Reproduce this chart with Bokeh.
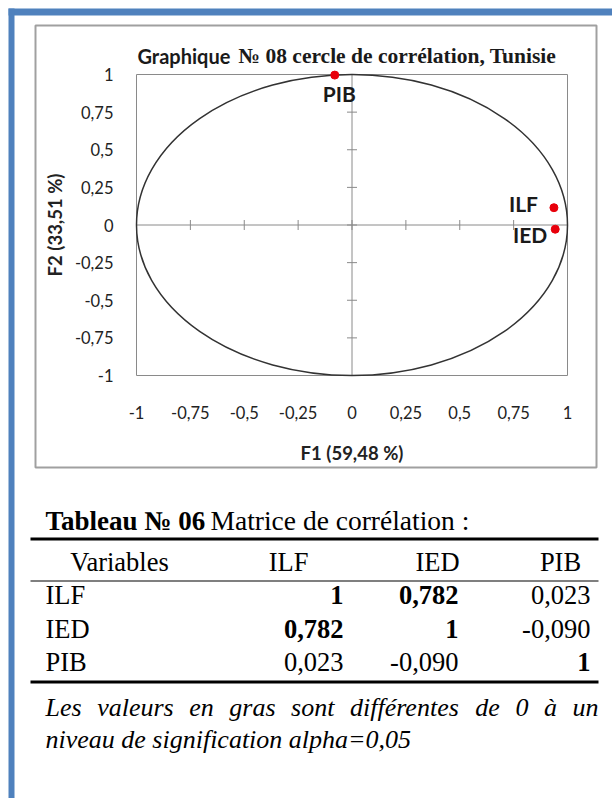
from bokeh.plotting import figure
from bokeh.models import Range1d, ColumnDataSource
from bokeh.core.properties import value
from bokeh.embed import file_html
from bokeh.resources import INLINE
import math

# ---------------- data ----------------
title_bold = "Graphique"
title_rest = "№ 08 cercle de corrélation, Tunisie"
x_axis_title = "F1 (59,48 %)"
y_axis_title = "F2 (33,51 %)"
tick_values = [-1, -0.75, -0.5, -0.25, 0, 0.25, 0.5, 0.75, 1]
tick_labels = ["-1", "-0,75", "-0,5", "-0,25", "0", "0,25", "0,5", "0,75", "1"]

var_names = ["ILF", "IED", "PIB"]
f1_coords = [0.937, 0.943, -0.080]
f2_coords = [0.115, -0.028, 0.996]

table_title_bold = "Tableau № 06"
table_title_rest = "Matrice de corrélation :"
table_header = ["Variables", "ILF", "IED", "PIB"]
row_names = ["ILF", "IED", "PIB"]
corr_ilf = [1, 0.782, 0.023]
corr_ied = [0.782, 1, -0.090]
corr_pib = [0.023, -0.090, 1]
bold_ilf = [True, True, False]
bold_ied = [True, True, False]
bold_pib = [False, False, True]
footnote_lines = ["Les valeurs en gras sont différentes de 0 à un",
                  "niveau de signification alpha=0,05"]

# ---------------- layout (page pixels, top-left origin) ----------------
W, H = 612, 798
FL, FR, FT, FB = 136, 567, 74, 375          # chart plotting area on the page
sxu = (FR - FL) / 2.0
syu = (FB - FT) / 2.0
cx0 = (FL + FR) / 2.0
cy0 = (FT + FB) / 2.0

p = figure(width=W, height=H, x_range=Range1d(0, W), y_range=Range1d(H, 0),
           x_axis_location=None, y_axis_location=None,
           output_backend="svg", toolbar_location=None, min_border=0)
p.background_fill_color = "white"
p.border_fill_color = "white"
p.outline_line_color = None
p.grid.visible = False
p.extra_x_ranges = {"cx": Range1d(-cx0 / sxu, (W - cx0) / sxu)}
p.extra_y_ranges = {"cy": Range1d((cy0 - H) / syu, cy0 / syu)}
C = dict(x_range_name="cx", y_range_name="cy")

# ---------------- page decorations ----------------
BLUE = "#4f81bd"
p.quad(left=8, right=W, top=8, bottom=15, fill_color=BLUE, line_color=None)
p.quad(left=8, right=14, top=8, bottom=H, fill_color=BLUE, line_color=None)
p.quad(left=35, right=596, top=25, bottom=467, fill_color="white",
       line_color="#a0a0a0", line_width=2)

# ---------------- chart ----------------
GRAY = "#8a8a8a"
p.quad(left=-1, right=1, bottom=-1, top=1, fill_color=None, line_color=GRAY, line_width=1, **C)
p.segment(x0=[-1, 0], y0=[0, -1], x1=[1, 0], y1=[0, 1], line_color=GRAY, line_width=1, **C)
inner = [t for t in tick_values if abs(t) < 1]
p.scatter(x=inner, y=[0] * len(inner), marker="dash", angle=math.pi / 2, size=10,
          line_color=GRAY, line_width=1, **C)
p.scatter(x=[0] * len(inner), y=inner, marker="dash", size=10,
          line_color=GRAY, line_width=1, **C)
p.ellipse(x=0, y=0, width=2, height=2, fill_color=None, line_color="#333333",
          line_width=1.5, **C)

SANS = value("Lato")
p.text(x=tick_values, y=[-1] * len(tick_values), text=tick_labels, y_offset=37,
       text_align="center", text_baseline="middle", text_font=SANS,
       text_font_size="16.5px", text_color="#222222", **C)
p.text(x=[-1] * len(tick_values), y=tick_values, text=tick_labels, x_offset=-23,
       text_align="right", text_baseline="middle", text_font=SANS,
       text_font_size="16.5px", text_color="#222222", **C)
p.text(x=[0], y=[-1], text=[x_axis_title], y_offset=77, text_align="center",
       text_baseline="middle", text_font=SANS, text_font_style="bold",
       text_font_size="18.5px", text_color="#222222", **C)
p.text(x=[-1], y=[0], text=[y_axis_title], x_offset=-82, angle=math.pi / 2,
       text_align="center", text_baseline="middle", text_font=SANS,
       text_font_style="bold", text_font_size="18.5px", text_color="#222222", **C)

label_offsets = {"ILF": (-16, -4), "IED": (-8, 5), "PIB": (21, 18)}
src = ColumnDataSource(dict(
    x=f1_coords, y=f2_coords, name=var_names,
    dx=[label_offsets[n][0] for n in var_names],
    dy=[label_offsets[n][1] for n in var_names],
))
p.scatter("x", "y", source=src, size=8, fill_color="#e8000b", line_color="#e8000b", **C)
p.text("x", "y", text="name", source=src, x_offset="dx", y_offset="dy",
       text_align="right", text_baseline="middle", text_font=SANS,
       text_font_style="bold", text_font_size="21px", text_color="#1a1a1a", **C)

# chart title
p.text(x=[137], y=[55], text=[title_bold], text_baseline="middle", text_font=SANS,
       text_font_style="bold", text_font_size="20px", text_color="#1a1a1a")
p.text(x=[238], y=[55], text=[title_rest], text_baseline="middle",
       text_font=value("Liberation Serif"), text_font_style="bold",
       text_font_size="21.5px", text_color="#1a1a1a")

# ---------------- table ----------------
TF = value("Liberation Serif")

def txt(xs, ys, ss, align="left", style="normal", size="26.5px"):
    if xs:
        p.text(x=xs, y=ys, text=ss, text_align=align, text_baseline="middle",
               text_font=TF, text_font_size=size, text_font_style=style, text_color="black")

txt([45], [520], [table_title_bold], style="bold", size="27px")
txt([210], [520], [table_title_rest], size="27.5px")
p.quad(left=30, right=598, top=537, bottom=540, fill_color="black", line_color=None)
header_x = [119, 288, 437, 560]
txt(header_x, [561] * 4, table_header, align="center")
p.quad(left=30, right=598, top=580, bottom=581, fill_color="black", line_color=None)

def fmt_num(v):
    return "1" if v == 1 else ("%.3f" % v).replace(".", ",")

col_right = [343, 458, 590]
row_y = [594, 628, 661]
txt([45] * 3, row_y, row_names)
bx, by, bt, nx, ny, nt = [], [], [], [], [], []
for ry, vals, bolds in zip(row_y, [corr_ilf, corr_ied, corr_pib], [bold_ilf, bold_ied, bold_pib]):
    for cx, v, b in zip(col_right, vals, bolds):
        if b:
            bx.append(cx); by.append(ry); bt.append(fmt_num(v))
        else:
            nx.append(cx); ny.append(ry); nt.append(fmt_num(v))
txt(bx, by, bt, align="right", style="bold")
txt(nx, ny, nt, align="right")
p.quad(left=30, right=598, top=680, bottom=683, fill_color="black", line_color=None)

# footnote: first line justified between the text margins (Times italic advance widths)
FN_SIZE = 26.0
ITALIC_W = {"L": 556, "e": 444, "s": 389, "v": 444, "a": 500, "l": 278, "u": 500,
            "r": 389, "n": 500, "g": 500, "o": 500, "t": 278, "d": 500, "i": 278,
            "f": 278, "é": 444, "0": 500, "à": 500}
words = footnote_lines[0].split(" ")
wpx = [sum(ITALIC_W.get(ch, 500) for ch in w) / 1000.0 * FN_SIZE for w in words]
left_m, right_m = 45, 598
gap = (right_m - left_m - sum(wpx)) / (len(words) - 1)
wx, cur = [], left_m
for w in wpx:
    wx.append(cur)
    cur += w + gap
txt(wx, [707] * len(words), words, style="italic", size="%gpx" % FN_SIZE)
txt([45], [739], [footnote_lines[1]], style="italic", size="%gpx" % FN_SIZE)

open("out.html", "w").write(file_html(p, INLINE))
